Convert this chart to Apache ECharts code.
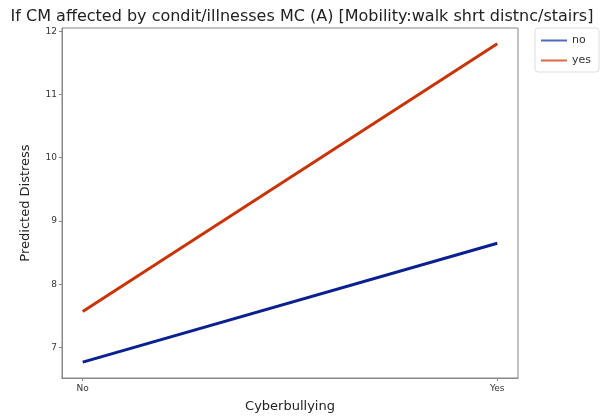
<!DOCTYPE html>
<html><head><meta charset="utf-8">
<script src="https://cdn.jsdelivr.net/npm/echarts@6/dist/echarts.min.js"></script>
<style>html,body{margin:0;padding:0;background:#fff}#c{width:603px;height:418px}</style>
</head><body><div id="c"></div>
<script>
var categories = ["No", "Yes"];
var seriesNames = ["no", "yes"];
var valuesNo = [6.77, 8.65];
var valuesYes = [7.57, 11.80];
var yTicks = [7, 8, 9, 10, 11, 12];

var chart = echarts.init(document.getElementById('c'));
function pts(vals){ return vals.map(function(v,i){ return [i, v]; }); }
var font = 'DejaVu Sans';
chart.setOption({
  animation: false,
  title: { text: 'If CM affected by condit/illnesses MC (A) [Mobility:walk shrt distnc/stairs]', left: 297, textAlign: 'center', top: 4,
    textStyle: { fontFamily: font, fontSize: 16, fontWeight: 'normal', color: '#222' } },
  legend: { right: 4, top: 28, orient: 'vertical', icon: 'rect', itemWidth: 26, itemHeight: 2, itemGap: 9,
    borderColor: '#ddd', borderWidth: 1, borderRadius: 3, padding: [7, 8, 6, 6],
    textStyle: { fontFamily: font, fontSize: 11, color: '#333' },
    data: [{ name: seriesNames[0], itemStyle: { color: '#5068c4' } }, { name: seriesNames[1], itemStyle: { color: '#d86a48' } }] },
  grid: { left: 62, right: 85, top: 28, bottom: 40, outerBoundsMode: 'none', containLabel: false },
  xAxis: { type: 'value', min: -0.05, max: 1.05, interval: 1, splitLine: { show: false },
    axisLine: { show: true, onZero: false, lineStyle: { color: '#888' } },
    axisTick: { show: true, length: 3, lineStyle: { color: '#888' }, customValues: [0, 1] },
    axisLabel: { customValues: [0, 1], formatter: function(v){ return categories[Math.round(v)] || ''; }, fontFamily: font, fontSize: 9, color: '#333', margin: 6 },
    name: 'Cyberbullying', nameLocation: 'middle', nameGap: 22, nameTextStyle: { fontFamily: font, fontSize: 13, color: '#222' } },
  yAxis: { type: 'value', min: 6.52, max: 12.05, splitLine: { show: false },
    axisLine: { show: true, onZero: false, lineStyle: { color: '#888' } },
    axisTick: { show: true, length: 3, lineStyle: { color: '#888' }, customValues: yTicks },
    axisLabel: { customValues: yTicks, fontFamily: font, fontSize: 9, color: '#333', margin: 5 },
    name: 'Predicted Distress', nameLocation: 'middle', nameGap: 30, nameTextStyle: { fontFamily: font, fontSize: 13, color: '#222' } },
  series: [
    { name: seriesNames[0], type: 'line', data: pts(valuesNo), showSymbol: false, color: '#5068c4', lineStyle: { color: '#0a2090', width: 3 } },
    { name: seriesNames[1], type: 'line', data: pts(valuesYes), showSymbol: false, color: '#d86a48', lineStyle: { color: '#c83408', width: 3 } }
  ],
  graphic: [{ type: 'rect', shape: { x: 62, y: 28, width: 456, height: 350 }, style: { fill: 'none', stroke: '#888', lineWidth: 1 }, silent: true, z: 10 }]
});
</script></body></html>
